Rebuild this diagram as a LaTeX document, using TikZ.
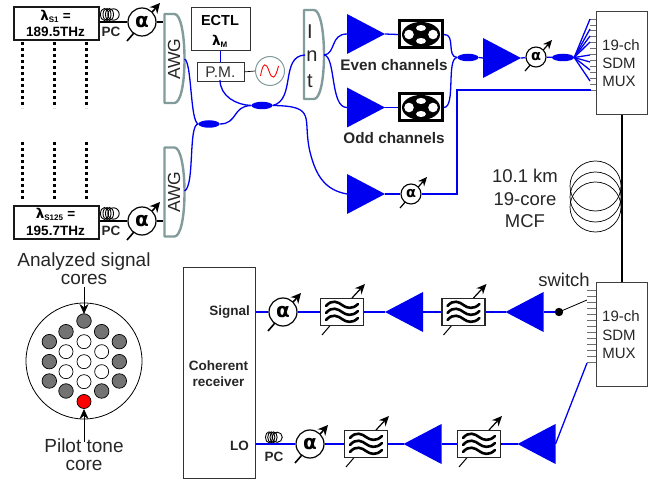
\documentclass[tikz,border=0pt]{standalone}
\usepackage{fontspec}
\setmainfont{Liberation Sans}
\newfontfamily\symf{DejaVu Sans}
\usetikzlibrary{arrows.meta,shapes.geometric}
\definecolor{awggray}{RGB}{130,155,155}
\definecolor{fibblue}{RGB}{0,0,240}
\definecolor{portgray}{RGB}{110,110,110}
\tikzset{
 x=1pt,y=-1pt,
 blueline/.style={draw=fibblue,line width=1.3pt},
 bluethick/.style={draw=fibblue,line width=1.6pt},
 blackline/.style={draw=black,line width=1.2pt},
 boxthick/.style={draw=black!90,line width=1.6pt,inner sep=0pt,fill=white},
 boxthin/.style={draw=black!80,line width=0.8pt,inner sep=0pt,fill=white},
 coupler/.style={ellipse,fill=fibblue,inner sep=0pt,minimum width=21pt,minimum height=7.5pt},
 tiparrow/.style={-{Stealth[length=10pt,width=10pt]},line width=1.6pt},
 graycore/.style={circle,draw=black,fill=black!55,line width=.7pt,minimum size=14.5pt,inner sep=0pt},
 whitecore/.style={circle,draw=black,fill=white,line width=.7pt,minimum size=14pt,inner sep=0pt},
 lab/.style={font=\fontsize{18.5}{20}\selectfont,inner sep=0pt,text=black!85},
 corelab/.style={font=\fontsize{19}{20}\selectfont,inner sep=0pt,text=black!85,text height=10pt,text depth=2pt},
 blab/.style={font=\fontsize{13.5}{14}\selectfont\bfseries,inner sep=0pt,text=black!85},
 chlab/.style={font=\fontsize{15.3}{16}\selectfont\bfseries,inner sep=0pt,text=black!85},
 muxlab/.style={font=\fontsize{15}{18}\selectfont,inner sep=0pt,text=black!85,align=center},
 platelab/.style={inner sep=0pt,font=\fontsize{17.5}{17.5}\selectfont,text=black!85},
 intlab/.style={inner sep=0pt,font=\fontsize{20}{20}\selectfont,text=black!85},
 pics/ampR/.style={code={
  \fill[fibblue] (-19,-20) -- (19,0) -- (-19,20) -- cycle;
  \coordinate (-in) at (-19,0); \coordinate (-out) at (19,0);}},
 pics/ampL/.style={code={
  \fill[fibblue] (19,-20) -- (-19,0) -- (19,20) -- cycle;
  \coordinate (-in) at (19,0); \coordinate (-out) at (-19,0);}},
 pics/attbig/.style={code={
  \draw[tiparrow] (-15,19) -- (18,-19);
  \node[circle,draw=black,line width=1.2pt,fill=white,minimum size=28pt,inner sep=0pt,font=\symf\fontsize{20}{20}\selectfont\bfseries] (-c) at (0,0) {α};}},
 pics/attsmall/.style={code={
  \draw[-{Stealth[length=9pt,width=8pt]},line width=1.2pt] (-11,14) -- (16,-17);
  \node[circle,draw=black,line width=1.1pt,fill=white,minimum size=20pt,inner sep=0pt,font=\symf\fontsize{14.5}{14.5}\selectfont\bfseries] (-c) at (0,0) {α};}},
 pics/coil/.style={code={
  \foreach \i in {-5.5,-3,-.5} \draw[line width=.9pt] (\i,-7.5) ellipse (4 and 6);
  \draw[line width=.9pt] (3.5,-7.5) circle (5.7);}},
 pics/tunefilter/.style={code={
  \draw[line width=1pt] (-20,23) -- (-2,2);
  \draw[-{Stealth[length=10pt,width=9pt]},line width=1.2pt] (10,-14) -- (23,-28);
  \node[draw=black!85,line width=1.5pt,fill=white,minimum width=43pt,minimum height=27pt,inner sep=0pt] (-b) at (0,0) {};
  \foreach \d in {-7,0,7}
   \draw[line width=2.6pt,line cap=round] (-16,\d+1) .. controls (-10,\d-6) and (-4,\d-3) .. (0,\d)
      .. controls (4,\d+3) and (10,\d+5) .. (16,\d-1);}},
 pics/interl/.style={code={
  \fill[black] (-23,-15) rectangle (23,15);
  \fill[white] (-20,-12) rectangle (20,12);
  \fill[black] (0,0) ellipse (19 and 12.5);
  \fill[white] (-12,0) circle (4.8);
  \fill[white] (12,0) circle (4.8);
  \fill[white] (0,-6.5) ellipse (5 and 3);
  \fill[white] (0,6.5) ellipse (5 and 3);
  \coordinate (-in) at (-23,0); \coordinate (-out) at (23,0);}},
 pics/dplate/.style={code={
  \draw[awggray,line width=2.4pt,line join=round] (0,0) -- (0,89)
    -- (10,89) .. controls (16,89) and (20,70) .. (20,45)
    .. controls (20,20) and (16,0) .. (10,0) -- cycle;}},
}
\begin{document}
\begin{tikzpicture}
\useasboundingbox (0,0) rectangle (659,481);

% dotted columns
\foreach \x in {22,54,86}{
 \draw[line width=3pt,dash pattern=on 3pt off 3pt] (\x,42) -- (\x,108);
 \draw[line width=3pt,dash pattern=on 3pt off 3pt] (\x,142) -- (\x,201);
}

% source boxes
\node[boxthick,minimum width=85pt,minimum height=33pt,anchor=north west] (s1) at (13,6.5) {};
\node[font=\fontsize{13.5}{14}\selectfont\bfseries,inner sep=0pt] at (55.5,16) {{\symf λ}\textsubscript{\fontsize{8}{8}\selectfont S1} =};
\node[font=\fontsize{13.5}{14}\selectfont\bfseries,inner sep=0pt] at (55.5,32) {189.5THz};
\node[boxthick,minimum width=85pt,minimum height=33pt,anchor=north west] (s2) at (13,205.5) {};
\node[font=\fontsize{13.5}{14}\selectfont\bfseries,inner sep=0pt] at (55.5,214.5) {{\symf λ}\textsubscript{\fontsize{8}{8}\selectfont S125} =};
\node[font=\fontsize{13.5}{14}\selectfont\bfseries,inner sep=0pt] at (55.5,230.5) {195.7THz};

% AWGs
\pic at (164.5,14) {dplate};
\pic at (164.5,147.5) {dplate};
\node[rotate=90,platelab] (awg1) at (174,59) {AWG};
\node[rotate=90,platelab] (awg2) at (174,192) {AWG};
\coordinate (awg1w) at (163,23);
\coordinate (awg2w) at (163,221);
\coordinate (awg1e) at (184.5,59);
\coordinate (awg2e) at (184.5,191);

% PC + attenuators
\pic (a1) at (142,22) {attbig};
\pic (a2) at (142,221) {attbig};
\draw[blackline] (s1.east|-a1-c) -- (a1-c);
\draw[blackline] (a1-c) -- (awg1w|-a1-c);
\draw[blackline] (s2.east|-a2-c) -- (a2-c);
\draw[blackline] (a2-c) -- (awg2w|-a2-c);
\pic at (110,22) {coil};
\pic at (110,221) {coil};
\node[blab] (pc1) at (111,32) {PC};
\node[blab] (pc2) at (111,231) {PC};

% ECTL & PM
\node[boxthin,minimum width=59pt,minimum height=43pt,anchor=north west] (ectl) at (190.5,7.5) {};
\node[font=\fontsize{14.5}{14}\selectfont\bfseries,inner sep=0pt] at (220,21) {ECTL};
\node[font=\fontsize{13.5}{13}\selectfont\bfseries,inner sep=0pt] at (220,41) {{\symf λ}\textsubscript{\fontsize{8}{8}\selectfont M}};
\node[boxthin,minimum width=47pt,minimum height=19pt,anchor=north west,font=\fontsize{15.5}{14}\selectfont,text=black!80] (pm) at (196.5,62) {P.M.};
\node[circle,draw=awggray,line width=1pt,fill=white,minimum size=29pt,inner sep=0pt] (osc) at (270,71) {};
\draw[red,line width=.9pt] (260.5,76) .. controls (263,62) and (266,62) .. (269,71) .. controls (272,80) and (275,80) .. (278.5,66);
\draw[line width=.7pt] (pm.east) -- (osc.west);
\draw[blueline] (ectl.south-|pm.north) -- (pm.north);

% Int
\pic at (304,10) {dplate};
\node[intlab] (i1) at (310,32) {I};
\node[intlab] (i2) at (312,56) {n};
\node[intlab] (i3) at (310,81) {t};
\coordinate (intw) at (305,55);
\coordinate (inte) at (324,55);

% couplers
\node[coupler] (c1) at (209,124) {};
\node[coupler] (c2) at (262,105.5) {};
\draw[blueline] (awg1e) .. controls (192,62) and (190,122) .. (c1.west);
\draw[blueline] (awg2e) .. controls (195,186) and (188,124) .. (c1.west);
\draw[blueline] (c1.east) .. controls (238,124) and (232,106) .. (c2.west);
\draw[blueline] (220,80) .. controls (220,96) and (236,105) .. (c2.west);
\draw[blueline] (c2.east) .. controls (296,100) and (280,56) .. (intw);

% amplifiers and filters upper right
\pic (ae) at (366,34) {ampR};
\pic (ao) at (366,107.5) {ampR};
\pic (ap) at (366,194) {ampR};
\pic (f1) at (421,34.5) {interl};
\pic (f2) at (421,107.5) {interl};
\node[chlab] (evenl) at (394,65) {Even channels};
\node[chlab] (oddl) at (394,138.5) {Odd channels};
\draw[blueline] (c2.east) .. controls (318,106) and (302,118) .. (310,152) .. controls (316,176) and (325,190) .. (ap-in);
\draw[blueline] (inte) .. controls (336,54) and (330,34) .. (ae-in);
\draw[blueline] (inte) .. controls (336,56) and (330,108) .. (ao-in);
\draw[blueline] (ae-out) -- (f1-in);
\draw[blueline] (ao-out) -- (f2-in);
\node[coupler] (c3) at (468,57.5) {};
\draw[blueline] (f1-out) .. controls (456,34) and (446,57) .. (c3.west);
\draw[blueline] (f2-out) .. controls (456,107) and (446,58) .. (c3.west);
\pic (am) at (502,58) {ampR};
\draw[blueline] (c3.east) -- (am-in);
\pic (at1) at (536,57) {attsmall};
\draw[blueline] (am-out) -- (at1-c);
\node[coupler,minimum width=22pt] (c4) at (563,57.5) {};
\draw[blueline] (at1-c) -- (c4);
\pic (at2) at (411,194) {attsmall};
\draw[bluethick] (ap-out) -- (at2-c);

% upper MUX
\node[draw=black!75,line width=.8pt,fill=white,minimum width=51pt,minimum height=103pt,inner sep=0pt,anchor=north west] (mux1) at (596,11) {};
\node[muxlab] at (621,45) {19-ch};
\node[muxlab] at (619,63) {SDM};
\node[muxlab] at (619,81.5) {MUX};
\foreach \i in {0,...,12} \draw[portgray,line width=.8pt] (590,19+5.92*\i) -- (596,19+5.92*\i);
\foreach \y in {19,29,36,42,55,62,70,81}
 \draw[blueline] (c4.east) -- (590,\y);
\coordinate (m1p) at (591,90);
\draw[bluethick] (m1p) -- (457,90) -- (457,194) -- (at2-c);

% fibre spool
\draw[line width=.7pt] (595.5,186) ellipse (25.5 and 25);
\draw[line width=.7pt] (595.5,197) ellipse (25.5 and 25);
\draw[line width=.7pt] (595.5,207) ellipse (25.5 and 25);
\node[lab] (mcf1) at (525,176) {10.1 km};
\node[lab] (mcf2) at (525,199) {19-core};
\node[lab] (mcf3) at (525,221) {MCF};

% lower MUX
\node[draw=black!75,line width=.8pt,fill=white,minimum width=51pt,minimum height=103pt,inner sep=0pt,anchor=north west] (mux2) at (596,282.5) {};
\draw[black,line width=2pt] (mux1.south-|622,0) -- (mux2.north-|622,0);
\node[muxlab] at (621,316) {19-ch};
\node[muxlab] at (619,335) {SDM};
\node[muxlab] at (619,353) {MUX};
\foreach \i in {0,...,12} \draw[portgray,line width=.8pt] (587,290+6.05*\i) -- (596,290+6.05*\i);
\node[lab] (sw) at (564,280) {switch};

% receiver
\node[draw=black!80,line width=.8pt,fill=white,minimum width=72pt,minimum height=211pt,inner sep=0pt,anchor=north west] (rx) at (183,267) {};
\node[blab,anchor=east] (sigl) at (250,312) {Signal};
\node[blab] (rx1) at (218.5,365.5) {Coherent};
\node[blab] (rx2) at (218.5,381.5) {receiver};
\node[blab,anchor=east] (lol) at (249,446) {LO};

% top return row
\coordinate (swp) at (559,312);
\coordinate (swe) at (587,300);
\pic (r1) at (524.5,312) {ampL};
\pic (r2) at (404,312) {ampL};
\pic (ff2) at (463.5,312) {tunefilter};
\pic (ff1) at (342,312) {tunefilter};
\pic (ar) at (283,312) {attbig};
\draw[blueline] (swp) -- (r1-in);
\draw[blueline] (r1-out) -- (ff2-b);
\draw[blueline] (ff2-b) -- (r2-in);
\draw[blueline] (r2-out) -- (ff1-b);
\draw[blueline] (ff1-b) -- (ar-c);
\draw[blueline] (ar-c) -- (rx.east|-ar-c);
\fill[black] (swp) circle (4.2);
\draw[line width=.8pt] (swp) -- (swe);

% bottom return row
\pic (s1a) at (536.5,444) {ampL};
\pic (s2a) at (422.5,444) {ampL};
\pic (ffb2) at (479,444) {tunefilter};
\pic (ffb1) at (366,444) {tunefilter};
\pic (al) at (310,444) {attbig};
\coordinate (m2p) at (587,363);
\draw[blueline] (m2p) -- (s1a-in);
\draw[blueline] (s1a-out) -- (ffb2-b);
\draw[blueline] (ffb2-b) -- (s2a-in);
\draw[blueline] (s2a-out) -- (ffb1-b);
\draw[blueline] (ffb1-b) -- (al-c);
\draw[blueline] (al-c) -- (rx.east|-al-c);
\pic[scale=.9] at (274,444) {coil};
\node[blab] (pc3) at (274,456.5) {PC};

% fibre cross-section
\node[circle,draw=black,line width=.8pt,fill=white,minimum size=116pt,inner sep=0pt] (fibre) at (84,361) {};
\foreach \a/\b in {252/228,198/260,305/260,148/290,358/290,148/350,358/350,148/408,358/408,198/438,305/438}
 \node[graycore] at (\a/3,245+\b/3) {};
\foreach \a/\b in {252/290,198/320,305/320,252/350,198/380,305/380,252/410}
 \node[whitecore] at (\a/3,245+\b/3) {};
\node[circle,draw=black,fill=red,line width=.7pt,minimum size=14pt,inner sep=0pt] (pilot) at (84,401.5) {};
\node[corelab] (t1) at (84,262.5) {Analyzed signal};
\node[corelab] (t2) at (84,280) {cores};
\node[corelab] (t3) at (84,448) {Pilot tone};
\node[corelab] (t4) at (84,466) {core};
\draw[-{Stealth[length=10pt,width=9pt]},line width=.8pt] (t2.south) ++(0,1) -- (84,314);
\draw[-{Stealth[length=10pt,width=9pt]},line width=.8pt] (t3.north) -- (84,409);
\end{tikzpicture}
\end{document}
